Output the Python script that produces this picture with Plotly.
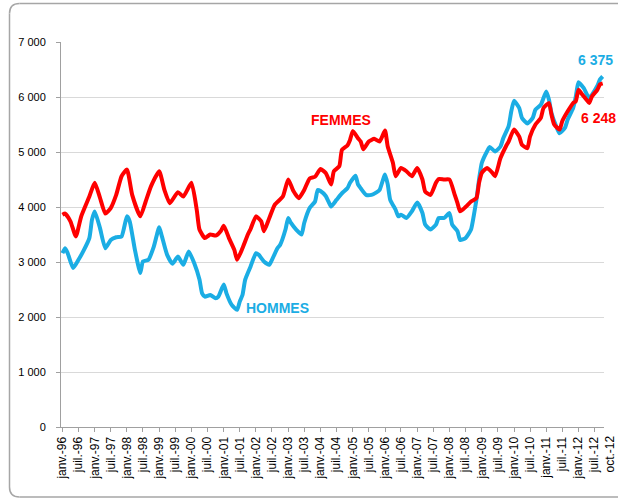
import plotly.graph_objects as go

# ---- data ----
femmes_dates = ["1996-01","1996-02","1996-04","1996-06","1996-08","1996-11","1997-01","1997-03","1997-05","1997-07",
                "1997-09","1997-11","1998-01","1998-03","1998-06","1998-08","1998-10","1999-01","1999-03","1999-05",
                "1999-08","1999-10","2000-01","2000-03","2000-04","2000-06","2000-08","2000-10","2000-12","2001-01",
                "2001-03","2001-05","2001-06","2001-08","2001-10","2001-11","2002-01","2002-03","2002-04","2002-06",
                "2002-08","2002-11","2003-01","2003-03","2003-05","2003-07","2003-09","2003-11","2004-01","2004-03",
                "2004-05","2004-06","2004-08","2004-09","2004-11","2004-12","2005-01","2005-03","2005-04","2005-05",
                "2005-07","2005-09","2005-11","2006-01","2006-02","2006-04","2006-05","2006-07","2006-09","2006-11",
                "2007-01","2007-03","2007-04","2007-06","2007-08","2007-09","2007-11","2008-01","2008-03","2008-04",
                "2008-05","2008-07","2008-09","2008-11","2008-12","2009-01","2009-03","2009-05","2009-06","2009-08",
                "2009-10","2009-11","2010-01","2010-03","2010-04","2010-06","2010-07","2010-09","2010-11","2010-12",
                "2011-02","2011-03","2011-04","2011-06","2011-07","2011-09","2011-11","2011-12","2012-01","2012-02",
                "2012-04","2012-05","2012-06","2012-08","2012-09","2012-10"]
femmes_values = [3860,3880,3740,3465,3830,4190,4440,4170,3880,3980,
                 4220,4560,4680,4220,3830,4100,4380,4650,4310,4070,
                 4270,4190,4440,3950,3590,3435,3500,3480,3570,3660,
                 3435,3220,3040,3250,3500,3600,3830,3740,3560,3800,
                 4040,4190,4500,4290,4160,4310,4520,4550,4690,4620,
                 4410,4650,4740,5040,5120,5220,5380,5250,5190,5050,
                 5190,5240,5190,5390,5100,4800,4560,4710,4650,4560,
                 4710,4500,4280,4220,4440,4510,4500,4500,4220,4070,
                 3920,4000,4100,4160,4440,4620,4710,4620,4560,4890,
                 5100,5190,5410,5280,5130,5070,5280,5500,5620,5800,
                 5890,5680,5500,5410,5560,5740,5890,5920,6130,6070,
                 5950,5890,6010,6130,6230,6248]

hommes_dates = ["1996-01","1996-02","1996-03","1996-05","1996-07","1996-09","1996-11","1996-12","1997-01","1997-03",
                "1997-05","1997-07","1997-09","1997-11","1998-01","1998-02","1998-04","1998-06","1998-07","1998-09",
                "1998-11","1999-01","1999-02","1999-04","1999-06","1999-08","1999-10","1999-12","2000-02","2000-04",
                "2000-05","2000-06","2000-08","2000-10","2000-11","2001-01","2001-02","2001-04","2001-06","2001-07",
                "2001-08","2001-09","2001-11","2002-01","2002-02","2002-04","2002-06","2002-07","2002-09","2002-10",
                "2002-12","2003-01","2003-02","2003-04","2003-06","2003-07","2003-09","2003-11","2003-12","2004-01",
                "2004-03","2004-04","2004-05","2004-07","2004-09","2004-11","2004-12","2005-02","2005-03","2005-04",
                "2005-06","2005-08","2005-10","2005-11","2006-01","2006-02","2006-03","2006-05","2006-06","2006-07",
                "2006-09","2006-11","2007-01","2007-03","2007-04","2007-06","2007-08","2007-09","2007-11","2008-01",
                "2008-02","2008-04","2008-05","2008-07","2008-09","2008-10","2008-11","2008-12","2009-01","2009-03",
                "2009-04","2009-06","2009-08","2009-09","2009-11","2009-12","2010-01","2010-03","2010-04","2010-06",
                "2010-08","2010-09","2010-11","2011-01","2011-02","2011-03","2011-05","2011-06","2011-08","2011-09",
                "2011-11","2011-12","2012-01","2012-03","2012-05","2012-06","2012-08","2012-09","2012-10"]
hommes_values = [3160,3250,3160,2890,3040,3220,3435,3770,3920,3620,
                 3250,3400,3450,3465,3830,3740,3220,2800,3010,3040,
                 3280,3630,3465,3130,2970,3100,2950,3190,2980,2680,
                 2430,2370,2400,2340,2370,2590,2430,2220,2130,2280,
                 2400,2680,2920,3160,3130,3010,2950,3040,3250,3310,
                 3590,3800,3710,3590,3500,3710,3980,4100,4310,4290,
                 4200,4100,4010,4130,4250,4340,4440,4570,4410,4340,
                 4220,4220,4270,4310,4590,4410,4130,3950,3830,3860,
                 3800,3920,4080,3890,3680,3590,3680,3800,3800,3890,
                 3680,3560,3400,3435,3590,3830,4130,4500,4800,5010,
                 5090,5010,5100,5250,5470,5740,5930,5800,5620,5520,
                 5620,5770,5860,6100,5950,5710,5440,5340,5440,5590,
                 5800,6000,6270,6160,5980,6040,6200,6320,6375]

tick_dates = ["1996-01","1996-07","1997-01","1997-07","1998-01","1998-07","1999-01","1999-07","2000-01","2000-07",
              "2001-01","2001-07","2002-01","2002-07","2003-01","2003-07","2004-01","2004-07","2005-01","2005-07",
              "2006-01","2006-07","2007-01","2007-07","2008-01","2008-07","2009-01","2009-07","2010-01","2010-07",
              "2011-01","2011-07","2012-01","2012-07"]
tick_labels = ["janv.-96","juil.-96","janv.-97","juil.-97","janv.-98","juil.-98","janv.-99","juil.-99","janv.-00","juil.-00",
               "janv.-01","juil.-01","janv.-02","juil.-02","janv.-03","juil.-03","janv.-04","juil.-04","janv.-05","juil.-05",
               "janv.-06","juil.-06","janv.-07","juil.-07","janv.-08","juil.-08","janv.-09","juil.-09","janv.-10","juil.-10",
               "janv.-11","juil.-11","janv.-12","juil.-12"]
last_label = "oct.-12"
y_ticks = [0, 1000, 2000, 3000, 4000, 5000, 6000, 7000]
y_labels = ["0", "1 000", "2 000", "3 000", "4 000", "5 000", "6 000", "7 000"]

RED = "#FF0000"
BLUE = "#1BADE4"
FONT = "Liberation Sans, Arial, sans-serif"

W, H = 618, 502
# plot area in pixels: x 61..604, y 42..427
PX0, PX1, PY0, PY1 = 61, 604, 42, 427
L, T = PX0, PY0
R, B = W - PX1, H - PY1
PW, PH = PX1 - PX0, PY1 - PY0

fig = go.Figure()
fig.add_trace(go.Scatter(x=[d + "-01" for d in hommes_dates], y=hommes_values, mode="lines",
                         line=dict(color=BLUE, width=4, shape="spline", smoothing=0.5),
                         name="HOMMES", hoverinfo="x+y"))
fig.add_trace(go.Scatter(x=[d + "-01" for d in femmes_dates], y=femmes_values, mode="lines",
                         line=dict(color=RED, width=4, shape="spline", smoothing=0.5),
                         name="FEMMES", hoverinfo="x+y"))

def px_x(px):   # pixel -> paper
    return (px - PX0) / PW

def px_y(py):
    return (PY1 - py) / PH

# rounded chart frame, open on the right (its right side lies outside the picture)
x0, x1, y0, y1 = px_x(9.5), px_x(618), px_y(3.5), px_y(497)
rx, ry = 10 / PW, 10 / PH
frame = dict(xref="paper", yref="paper", line=dict(color="#A6A6A6", width=1.5), layer="below")
fig.add_shape(type="line", x0=x0 + rx, x1=x1, y0=y0, y1=y0, **frame)
fig.add_shape(type="line", x0=x0 + rx, x1=x1, y0=y1, y1=y1, **frame)
fig.add_shape(type="line", x0=x0, x1=x0, y0=y1 + ry, y1=y0 - ry, **frame)
fig.add_shape(type="path", path=f"M {x0+rx},{y0} Q {x0},{y0} {x0},{y0-ry}",
              fillcolor="rgba(0,0,0,0)", **frame)
fig.add_shape(type="path", path=f"M {x0},{y1+ry} Q {x0},{y1} {x0+rx},{y1}",
              fillcolor="rgba(0,0,0,0)", **frame)

ann_font = dict(family=FONT, size=14)
def label(px, py, text, color):
    fig.add_annotation(x=px_x(px), y=px_y(py), xref="paper", yref="paper", text=f"<b>{text}</b>",
                       showarrow=False, xanchor="center", yanchor="middle",
                       font=dict(ann_font, color=color))

label(341, 120, "FEMMES", RED)
label(277, 308, "HOMMES", BLUE)
label(595.5, 60, "6 375", BLUE)
label(598.5, 118, "6 248", RED)

# last category label sits one step to the right of the regular ticks in the reference
fig.add_annotation(x=px_x(610), y=px_y(434), xref="paper", yref="paper", text=last_label,
                   showarrow=False, textangle=-90, xanchor="center", yanchor="top",
                   font=dict(family=FONT, size=12, color="#000000"))

fig.update_layout(
    width=W, height=H,
    margin=dict(l=L, r=R, t=T, b=B, pad=0, autoexpand=False),
    paper_bgcolor="white", plot_bgcolor="white",
    showlegend=False,
    font=dict(family=FONT, color="#000000"),
    xaxis=dict(type="date", range=["1995-12-16", "2012-10-16"],
               tickvals=[d + "-01" for d in tick_dates], ticktext=tick_labels,
               tickangle=-90, tickfont=dict(size=12, family=FONT, color="#000000"),
               showgrid=False, zeroline=False,
               showline=True, linecolor="#A0A0A0", linewidth=1,
               ticks="outside", ticklen=4, tickcolor="#A0A0A0"),
    yaxis=dict(range=[0, 7000], tickvals=y_ticks, ticktext=y_labels,
               tickfont=dict(size=11, family=FONT, color="#000000"),
               showgrid=True, gridcolor="#D9D9D9", gridwidth=1, zeroline=False,
               showline=True, linecolor="#A0A0A0", linewidth=1,
               ticks="outside", ticklen=4, tickcolor="#A0A0A0",
               ticklabelstandoff=8),
)

# remove the default 8px page margin so the figure sits at the window origin
fig.write_html("out.html", config={"displayModeBar": False},
               post_script="document.body.style.margin='0';document.body.style.overflow='hidden';")
